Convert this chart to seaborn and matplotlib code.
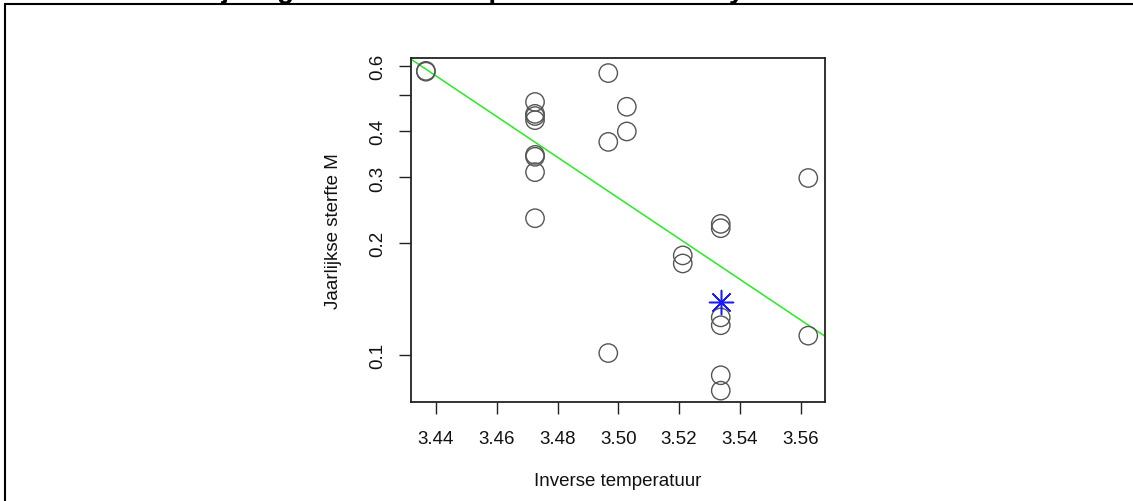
import numpy as np
import pandas as pd
import matplotlib
matplotlib.use("Agg")
import matplotlib.pyplot as plt
from matplotlib.lines import Line2D
import seaborn as sns

# Observed annual mortality per station against inverse temperature
inv_temp = [3.4367, 3.4367,
            3.4726, 3.4726, 3.4726, 3.4726, 3.4726, 3.4726, 3.4726, 3.4726,
            3.4967, 3.4967, 3.4967,
            3.5028, 3.5028,
            3.5212, 3.5212,
            3.5337, 3.5337, 3.5337, 3.5337, 3.5337, 3.5337,
            3.5625, 3.5625]
mortality = [0.581, 0.578,
             0.479, 0.445, 0.439, 0.428, 0.345, 0.341, 0.310, 0.233,
             0.573, 0.374, 0.101,
             0.465, 0.399,
             0.185, 0.176,
             0.225, 0.219, 0.126, 0.120, 0.088, 0.080,
             0.299, 0.1125]

# Predicted mortality at the mean temperature
pred_inv_temp = [3.5337]
pred_mortality = [0.1384]

# Fitted line: log10(M) = intercept + slope * (1000/T)
fit_intercept = 18.595
fit_slope = -5.478

x_ticks = [3.44, 3.46, 3.48, 3.50, 3.52, 3.54, 3.56]
y_ticks = [0.1, 0.2, 0.3, 0.4, 0.5, 0.6]
y_tick_labels = ["0.1", "0.2", "0.3", "0.4", "", "0.6"]

title_text = "Sterfte M bij de gemiddelde temperatuur van het systeem"
x_label = "Inverse temperatuur"
y_label = "Jaarlijkse sterfte M"

sns.set_style("white")
plt.rcParams["font.family"] = ["Liberation Sans", "DejaVu Sans"]

W, H = 1133, 502
fig = plt.figure(figsize=(W / 100, H / 100), dpi=100)
ax = fig.add_axes([410.7 / W, 1 - 402.7 / H, (825 - 410.7) / W, (402.7 - 59.3) / H])

obs = pd.DataFrame({"x": inv_temp, "m": mortality})
pred = pd.DataFrame({"x": pred_inv_temp, "m": pred_mortality})

sns.scatterplot(data=obs, x="x", y="m", ax=ax, marker="o", s=175,
                facecolors="none", edgecolor="#555555", linewidth=1.0,
                legend=False, zorder=3)
sns.scatterplot(data=pred, x="x", y="m", ax=ax, marker=(8, 2, 0), s=300,
                color="#1a1aff", edgecolor="#1a1aff", linewidth=1.1,
                legend=False, zorder=4)

ax.set_yscale("log")
xmin, xmax = 3.4317, 3.5680
ax.set_xlim(xmin, xmax)
ax.set_ylim(0.0747, 0.628)

# Straight line on the log axis through the fitted relation
x0, x1 = 3.44, 3.56
ax.axline((x0, 10 ** (fit_intercept + fit_slope * x0)),
          (x1, 10 ** (fit_intercept + fit_slope * x1)),
          color="#22ee22", linewidth=1.1, zorder=2)

ax.set_xticks(x_ticks)
ax.set_xticklabels([f"{v:.2f}" for v in x_ticks])
ax.yaxis.set_minor_locator(matplotlib.ticker.NullLocator())
ax.set_yticks(y_ticks)
ax.set_yticklabels(y_tick_labels, rotation=90, va="center")

ax.tick_params(axis="both", which="major", direction="out", length=8.5,
               width=1.0, color="#222222", labelsize=13.5, labelcolor="#111111",
               bottom=True, left=True)
ax.tick_params(axis="x", pad=12)
ax.tick_params(axis="y", pad=9)

for sp in ax.spines.values():
    sp.set_visible(True)
    sp.set_color("#222222")
    sp.set_linewidth(1.3)

ax.set_xlabel(x_label, fontsize=13.5, color="#111111")
ax.set_ylabel(y_label, fontsize=13.5, color="#111111")
ax.xaxis.set_label_coords(0.5, -(481.7 - 402.7) / (402.7 - 59.3))
ax.xaxis.label.set_va("center")
ax.yaxis.set_label_coords(-(410.7 - 334) / (825 - 410.7), 0.5)
ax.yaxis.label.set_va("center")

# Page frame and caption above the chart
fig.add_artist(Line2D([5.5 / W, 1], [1 - 4.5 / H, 1 - 4.5 / H], color="black", lw=1.5))
fig.add_artist(Line2D([5.5 / W, 5.5 / W], [0, 1 - 4.5 / H], color="black", lw=1.5))
fig.text(70 / W, 1 + 2.5 / H, title_text, fontsize=20, fontweight="bold",
         ha="left", va="baseline", color="black")

fig.savefig("out.png", dpi=100, facecolor="white")
